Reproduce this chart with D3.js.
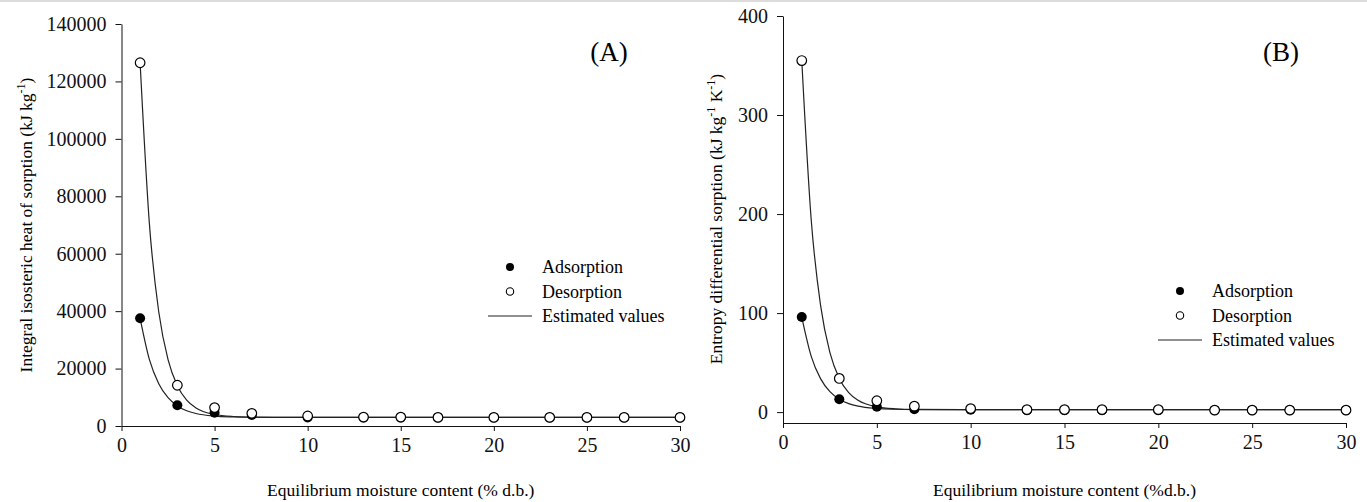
<!DOCTYPE html>
<html>
<head>
<meta charset="utf-8">
<script src="https://cdn.jsdelivr.net/npm/d3@7"></script>
<style>
  body { margin: 0; background: #fff; }
  svg { display: block; font-family: "Liberation Serif", "Times New Roman", serif; }
</style>
</head>
<body>
<div class="canvas"></div>
<script>
// moisture content (% d.b.) of the measured points
const emc = [1, 3, 5, 7, 10, 13, 15, 17, 20, 23, 25, 27, 30];

// (A) integral isosteric heat of sorption, kJ kg-1
const heatAds = [37500, 7200, 4600, 3800, 3000, 3000, 3000, 3000, 3000, 3000, 3000, 3000, 3000];
const heatDes = [126500, 14200, 6400, 4400, 3500, 3100, 3100, 3000, 3000, 3000, 3000, 3000, 3000];

// (B) differential entropy of sorption, kJ kg-1 K-1
const entropyAds = [96, 13, 5.5, 3, 2.5, 2, 2, 2, 2, 2, 2, 2, 2];
const entropyDes = [355, 34, 11.5, 6, 3.5, 2.5, 2.5, 2.5, 2.5, 2, 2, 2, 2];

// estimated values (fitted curves)
const fitX = [1, 1.5, 2, 2.5, 3, 3.5, 4, 5, 6, 7, 10, 30];
const heatAdsFit = [37500, 23100, 14750, 9860, 7000, 5330, 4360, 3460, 3160, 3050, 3000, 3000];
const heatDesFit = [126500, 70300, 39800, 23100, 14000, 9000, 6300, 4000, 3300, 3100, 3000, 3000];
const entropyAdsFit = [96, 56.6, 33.8, 20.6, 13, 8.6, 6.0, 3.7, 2.9, 2.6, 2.5, 2.5];
const entropyDesFit = [355, 195, 108, 60, 34, 19.7, 11.9, 5.3, 3.35, 2.75, 2.5, 2.5];

const xTicks = [0, 5, 10, 15, 20, 25, 30];
const heatTicks = [0, 20000, 40000, 60000, 80000, 100000, 120000, 140000];
const entropyTicks = [0, 100, 200, 300, 400];

const legendLabels = ['Adsorption', 'Desorption', 'Estimated values'];

const svg = d3.select('.canvas')
    .append('svg')
    .attr('width', 1367)
    .attr('height', 502);

svg.append('rect')
    .attr('width', 1367).attr('height', 2)
    .attr('fill', '#dcdcdc');

const drawPanel = (p) => {

    const x = d3.scaleLinear().domain([0, 30]).range([p.left, p.right]);
    const y = d3.scaleLinear().domain(p.yDomain).range([p.bottom, p.top]);

    const g = svg.append('g');

    const xAxis = g.append('g')
        .attr('transform', `translate(0, ${p.bottom})`)
        .call(d3.axisBottom(x).tickValues(xTicks).tickSize(5).tickSizeOuter(0).tickPadding(7));

    const yAxis = g.append('g')
        .attr('transform', `translate(${p.left}, 0)`)
        .call(d3.axisLeft(y).tickValues(p.yTicks).tickSize(6).tickSizeOuter(0).tickPadding(9)
            .tickFormat(d3.format('d')));

    [xAxis, yAxis].forEach(a => {
        a.selectAll('text').attr('font-size', 20).attr('fill', '#111').attr('font-family', 'Liberation Serif');
        a.selectAll('line').attr('stroke', '#111');
        a.select('.domain').attr('stroke', '#111');
    });

    const line = d3.line()
        .x((d, i) => x(fitX[i]))
        .y(d => y(d))
        .curve(d3.curveMonotoneX);

    [p.adsFit, p.desFit].forEach(s => {
        g.append('path')
            .attr('d', line(s))
            .attr('fill', 'none')
            .attr('stroke', '#222')
            .attr('stroke-width', 1.2);
    });

    g.selectAll('circle.ads')
        .data(p.ads)
        .enter()
        .append('circle')
        .attr('class', 'ads')
        .attr('cx', (d, i) => x(emc[i]))
        .attr('cy', d => y(d))
        .attr('r', 5)
        .attr('fill', '#000');

    g.selectAll('circle.des')
        .data(p.des)
        .enter()
        .append('circle')
        .attr('class', 'des')
        .attr('cx', (d, i) => x(emc[i]))
        .attr('cy', d => y(d))
        .attr('r', 4.8)
        .attr('fill', '#fff')
        .attr('stroke', '#000')
        .attr('stroke-width', 1.2);

    // panel letter
    g.append('text')
        .attr('x', p.letterX).attr('y', 61)
        .attr('text-anchor', 'middle')
        .attr('font-size', 27)
        .text(p.letter);

    // axis titles
    g.append('text')
        .attr('x', (p.left + p.right) / 2 + p.xTitleShift).attr('y', 496)
        .attr('text-anchor', 'middle')
        .attr('font-size', 17.5)
        .text(p.xTitle);

    const yt = g.append('text')
        .attr('transform', `translate(${p.yTitleX}, ${p.yTitleY}) rotate(-90)`)
        .attr('text-anchor', 'middle')
        .attr('font-size', 17.5);
    p.yTitle.forEach(part => {
        const t = yt.append('tspan').text(part.t);
        if (part.sup) t.attr('font-size', 12).attr('dy', -7);
        else if (part.after) t.attr('dy', 7);
    });

    // legend
    const lg = g.append('g').attr('transform', `translate(${p.legX}, ${p.legY})`);
    const rowH = 24.5;
    legendLabels.forEach((label, i) => {
        lg.append('text')
            .attr('x', 32).attr('y', i * rowH + 6)
            .attr('font-size', 18)
            .text(label);
    });
    lg.append('circle').attr('cx', 0).attr('cy', 0).attr('r', 4).attr('fill', '#000');
    lg.append('circle').attr('cx', 0).attr('cy', rowH).attr('r', 3.7)
        .attr('fill', '#fff').attr('stroke', '#000').attr('stroke-width', 1.1);
    lg.append('line')
        .attr('x1', -22).attr('x2', 22)
        .attr('y1', rowH * 2).attr('y2', rowH * 2)
        .attr('stroke', '#222').attr('stroke-width', 1.2);
};

drawPanel({
    left: 121.5, right: 680, top: 24, bottom: 426,
    yDomain: [0, 140000], yTicks: heatTicks,
    ads: heatAds, des: heatDes, adsFit: heatAdsFit, desFit: heatDesFit,
    letter: '(A)', letterX: 609,
    xTitle: 'Equilibrium moisture content (% d.b.)', xTitleShift: 0,
    yTitle: [{t: 'Integral isosteric heat of sorption (kJ kg'}, {t: '-1', sup: true}, {t: ')', after: true}],
    yTitleX: 32, yTitleY: 225,
    legX: 510, legY: 267
});

drawPanel({
    left: 783, right: 1346, top: 16, bottom: 423,
    yDomain: [-11, 400], yTicks: entropyTicks,
    ads: entropyAds, des: entropyDes, adsFit: entropyAdsFit, desFit: entropyDesFit,
    letter: '(B)', letterX: 1281,
    xTitle: 'Equilibrium moisture content (%d.b.)', xTitleShift: 0,
    yTitle: [{t: 'Entropy differential sorption (kJ kg'}, {t: '-1', sup: true}, {t: ' K', after: true},
             {t: '-1', sup: true}, {t: ')', after: true}],
    yTitleX: 722, yTitleY: 219,
    legX: 1180, legY: 291
});
</script>
</body>
</html>
